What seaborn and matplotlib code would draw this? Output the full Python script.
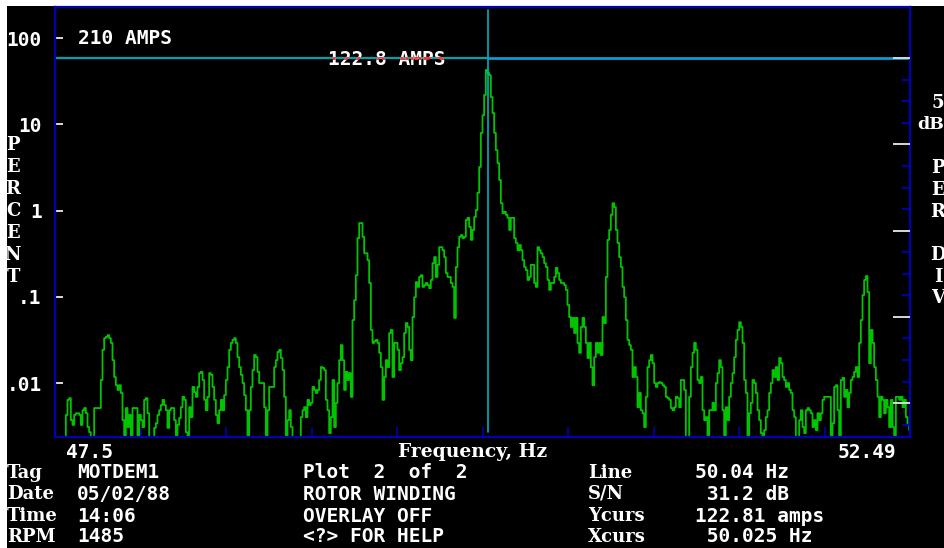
import numpy as np
import pandas as pd
import matplotlib
matplotlib.use("Agg")
import matplotlib.pyplot as plt
from matplotlib.patches import Rectangle
from matplotlib.ticker import FixedLocator, NullLocator, NullFormatter
import seaborn as sns

# ---------------------------------------------------------------------------
# Current spectrum, one value per analyser line from 47.5 Hz to 52.49 Hz.
# Levels are in dB relative to full scale (210 A = 100 %); -95 = below floor.
# ---------------------------------------------------------------------------
level_db_low = [
    -95, -95, -95, -95, -95, -95, -95,
    -87.4, -83.9, -83.5, -88.6, -89.7, -87.4, -87.0, -87.0, -87.4, -89.7, -86.3, -85.8, -87.0, -90.2, -91.4,
    -95, -95,
    -85.8, -85.8, -85.8, -85.8,
    -79.3, -72.3, -69.6, -69.3, -68.9, -69.6, -70.7, -74.7, -78.6, -80.5, -81.6, -80.5, -82.3, -88.6,
    -95, -85.8, -90.2, -87.4, -95, -85.8, -85.8, -85.8, -95,
    -87.4, -88.6, -90.2, -83.9, -83.5, -87.0,
    -95, -95, -95,
    -90.4, -89.3, -87.4, -86.3, -85.1, -83.9, -85.1, -86.3, -90.4, -86.3, -85.8, -85.8, -88.6,
    -95,
    -89.7, -88.1, -85.6, -83.2, -83.9, -91.4,
    -95,
    -85.6, -87.9, -80.9, -82.1, -83.2, -80.9, -77.7, -77.4, -79.3, -83.9, -86.3, -83.2, -77.7, -78.1,
    -80.9, -83.9, -87.4, -89.3, -86.3, -83.9, -86.3,
    -82.8, -79.3, -76.3, -72.3, -70.7, -70.0, -69.6, -70.7, -74.0, -76.3, -78.1, -80.0, -82.8, -86.3,
    -95,
    -86.3, -80.9, -77.0, -73.5, -74.0, -77.4, -80.0, -80.0, -80.0, -85.6,
    -95,
    -86.3, -80.9, -80.9, -80.9, -76.3, -74.7, -72.8, -72.3, -74.2, -77.0, -83.2,
    -95,
    -88.6, -86.3, -90.2,
    -95, -95, -95, -95, -95,
    -87.9, -86.3, -85.6, -87.9, -83.9, -85.1, -84.6, -80.9, -81.6, -82.3, -81.6,
]

level_db_mid = [
    -79.3, -76.3, -76.5, -77.0, -83.9, -86.3, -91.6, -87.9, -79.3, -90.2,
    -84.6, -80.0, -74.7, -71.2, -74.7, -81.6, -77.4, -79.3, -77.7, -83.2,
    -65.4, -60.8, -55.0, -46.4, -42.9, -42.9, -46.1, -49.9, -49.9, -51.5, -56.8, -67.7,
    -70.7, -70.3, -70.0, -70.7, -73.0, -76.3, -83.9, -78.6, -74.7, -76.3, -68.4, -67.7,
    -78.6, -70.7, -70.7, -72.3, -77.0, -75.4, -74.0, -68.4, -66.1, -67.0, -72.3, -74.7,
    -64.7, -60.1, -56.6, -57.7, -55.4, -55.0, -57.7, -57.3, -56.8, -57.3, -58.0, -56.1,
    -52.2, -50.8, -55.4, -52.6, -48.5, -48.5, -49.2, -50.8, -54.5, -55.4, -55.4, -56.8, -57.7,
    -64.9, -53.1, -48.5, -46.1, -45.7, -46.4, -46.1, -42.2, -41.7, -43.8, -46.8, -44.5,
    -41.5, -39.9, -35.9, -29.9, -22.0, -17.9, -13.2, -7.4, -8.1, -8.6, -13.7, -17.4,
    -22.0, -26.0, -29.0, -32.9, -38.3, -40.6, -40.3, -41.0, -41.7, -44.5, -41.7, -41.7,
    -46.4, -47.5, -49.2, -48.0, -49.2, -51.5, -53.1, -53.8, -56.1, -55.4, -52.6, -52.6,
    -56.8, -57.7,
    -48.5, -49.2, -49.9, -50.8, -52.2, -53.1, -56.1, -58.4, -56.8, -56.8, -55.4, -53.3,
    -54.5, -56.1, -56.8, -56.8, -57.3, -58.4, -61.9, -64.7, -67.0, -64.9, -68.4, -64.9,
    -70.7, -73.0, -67.0, -64.9, -67.0, -70.7, -74.2, -70.7, -76.3, -80.5, -74.0, -70.7,
    -73.0, -70.7, -73.5, -64.7, -66.1,
    -55.4, -46.8, -44.5, -41.0, -38.3, -39.2, -44.5, -47.5, -50.8, -53.1, -57.7, -60.1,
    -65.4, -70.0, -71.2, -72.3, -78.6, -76.3, -78.6, -85.6,
]

level_db_high = [
    -82.3, -86.3, -87.0, -90.2, -83.2, -76.3, -74.7, -73.5, -75.4, -80.0,
    -80.9, -80.0, -79.8, -80.0, -80.5, -80.9, -83.2, -83.5, -83.9, -85.8,
    -86.3, -85.6, -83.2, -83.5, -85.6, -79.3, -79.3, -81.6, -95, -95,
    -83.2, -76.3, -73.0, -70.7, -72.3, -79.3, -80.0, -78.6, -86.3, -88.6, -87.9, -95,
    -86.3, -86.3, -84.6, -86.3, -80.0, -77.7, -74.7, -76.3, -86.3, -95,
    -85.6, -88.6, -83.2, -80.0, -77.7, -74.0, -70.0, -67.7, -65.9, -67.0, -70.7, -79.3, -82.3, -95,
    -87.0, -84.6, -79.3, -80.0, -82.3, -86.3, -88.6, -91.6, -95,
    -90.9, -87.9, -86.3, -82.3, -80.0, -77.0, -78.6, -76.3, -79.3, -74.2, -75.4, -78.6,
    -79.3, -80.9, -80.0, -81.6, -82.3, -86.3, -87.9, -95, -95,
    -88.6, -86.3, -90.2, -91.6, -86.3, -85.8, -86.3, -87.0, -90.2, -88.6,
    -90.9, -87.0, -88.6, -87.0, -83.9, -83.2, -83.2, -83.2, -83.2, -95,
    -89.3, -80.9, -80.5, -86.3, -95,
    -79.3, -78.8, -83.2, -81.6, -85.6, -82.3, -79.3, -78.6, -77.4, -76.3, -78.6,
    -70.7, -65.4, -59.6, -56.1, -55.2, -58.9, -75.4, -67.7, -70.7, -76.3, -79.3,
    -83.2, -87.9, -83.2, -83.9, -87.0, -83.9, -85.6, -90.2, -83.9, -90.2, -95,
    -83.2, -83.2, -83.9, -83.2, -85.6, -83.9, -87.9, -89.7, -90.9,
]

F_START, F_STOP = 47.5, 52.49          # analyser span, Hz
FULL_SCALE_AMPS = 210.0                # 100 % on the percent scale
cursor_amps = 122.81
cursor_hz = 50.025

decade_ticks = [100, 10, 1, 0.1, 0.01]
decade_labels = ["100", "10", "1", ".1", ".01"]
db_per_div = 5

info_labels = ["Tag", "Date", "Time", "RPM"]
info_values = ["MOTDEM1", "05/02/88", "14:06", "1485"]
plot_lines = ["Plot  2  of  2", "ROTOR WINDING", "OVERLAY OFF", "<?> FOR HELP"]
cursor_labels = ["Line", "S/N", "Ycurs", "Xcurs"]
cursor_values = ["50.04 Hz", " 31.2 dB", "122.81 amps", " 50.025 Hz"]

# ---------------------------------------------------------------------------
levels = np.array(level_db_low + level_db_mid + level_db_high)
freq = np.linspace(F_START, F_STOP, len(levels))
spectrum = pd.DataFrame({"Frequency": freq, "Percent": 100 * 10 ** (levels / 20)})
cursor_pct = 100 * cursor_amps / FULL_SCALE_AMPS

BLUE = "#0000b4"
GREEN = "#00c400"
TEAL = "#00a4a8"
CURSOR_V = "#00aec0"
SKY = "#0a9ad6"
WHITE = "#ffffff"
MONO = "DejaVu Sans Mono"
SERIF = "DejaVu Serif"

sns.set_style("dark", {"axes.facecolor": "black"})
plt.rcParams["font.family"] = [MONO, "DejaVu Sans"]

W, H = 945, 548
fig = plt.figure(figsize=(W / 100, H / 100), dpi=100, facecolor="white")
# black screen area (thin white margin on the left and top)
fig.patches.append(Rectangle((7 / W, 0), 1, 1 - 6 / H, transform=fig.transFigure,
                             facecolor="black", edgecolor="none", zorder=-10))

left, right, top, bottom = 55, 910, 6.5, 436.5
ax = fig.add_axes([left / W, 1 - bottom / H, (right - left) / W, (bottom - top) / H])
ax.set_facecolor("black")
ax.set_yscale("log")

sns.lineplot(data=spectrum, x="Frequency", y="Percent", ax=ax, color=GREEN,
             linewidth=1.3, estimator=None, sort=False, legend=False, zorder=3,
             drawstyle="steps-mid")

ax.set_xlim(F_START, F_STOP)
ax.set_ylim(0.0024, 232)
ax.set_xlabel("")
ax.set_ylabel("")
ax.grid(False)
for sp in ax.spines.values():
    sp.set_color(BLUE)
    sp.set_linewidth(1.6)
    sp.set_visible(True)
    sp.set_zorder(6)

# left percent scale
ax.yaxis.set_major_locator(FixedLocator(decade_ticks))
ax.set_yticklabels(decade_labels)
ax.yaxis.set_minor_locator(NullLocator())
ax.tick_params(axis="y", which="major", direction="in", length=5.5, width=1.2,
               color=WHITE, labelcolor=WHITE, labelsize=14, pad=9.6, right=False)
for lbl in ax.get_yticklabels():
    lbl.set_fontweight("bold")
    lbl.set_family(MONO)

# frequency divisions (ten per span)
ax.xaxis.set_major_locator(FixedLocator(np.linspace(F_START, F_STOP, 11)[1:-1]))
ax.xaxis.set_major_formatter(NullFormatter())
ax.xaxis.set_minor_locator(NullLocator())
ax.tick_params(axis="x", which="major", direction="in", length=7.2, width=1.2,
               color=BLUE, bottom=True, top=False)

# right-hand 5 dB/div scale referenced to the cursor level
ax2 = ax.twinx()
ax2.set_yscale("log")
ax2.set_ylim(ax.get_ylim())
ax2.grid(False)
for sp in ax2.spines.values():
    sp.set_visible(False)
div_levels = cursor_pct * 10 ** (-db_per_div * np.arange(0, 18) / 20)
ax2.yaxis.set_major_locator(FixedLocator(div_levels[::4]))
ax2.yaxis.set_minor_locator(FixedLocator([v for i, v in enumerate(div_levels) if i % 4]))
ax2.yaxis.set_major_formatter(NullFormatter())
ax2.yaxis.set_minor_formatter(NullFormatter())
ax2.tick_params(axis="y", which="major", direction="in", length=12, width=1.4, color="#d8d8d8")
ax2.tick_params(axis="y", which="minor", direction="in", length=6, width=1.3, color=BLUE)

# cursors
ax.plot([F_START, cursor_hz], [cursor_pct, cursor_pct], color=TEAL, lw=1.6, zorder=4)
ax.plot([cursor_hz, F_STOP], [cursor_pct, cursor_pct], color=SKY, lw=2.0, zorder=4)
ax.axvline(cursor_hz, ymin=(bottom - 432) / (bottom - top), ymax=(bottom - 10) / (bottom - top),
           color=CURSOR_V, lw=1.2, zorder=5)


def put(x, y, s, family=MONO, ha="left", size=14, color=WHITE):
    return fig.text(x / W, 1 - y / H, s, ha=ha, va="center", color=color,
                    fontsize=size, fontweight="bold", family=family)


put(78, 38, f"{FULL_SCALE_AMPS:.0f} AMPS")
amps_txt = f"{cursor_amps:.1f} AMPS"
put(328, 59.5, amps_txt)
red = put(328, 59.5, amps_txt, color="#ff3030")
red.set_clip_path(Rectangle((0, 1 - 60 / H), 1, 3 / H, transform=fig.transFigure))

# vertical axis captions
for i, ch in enumerate("PERCENT"):
    put(13, 145 + 22 * i, ch, family=SERIF, ha="center", size=13)
put(944, 103, str(db_per_div), family=SERIF, ha="right", size=13)
put(944, 124, "dB", family=SERIF, ha="right", size=12.5)
for ch, y in zip("PERDIV", [168, 190, 212, 255, 277, 298]):
    put(938, y, ch, family=SERIF, ha="center", size=13)

# frequency span
put(66, 452, f"{F_START}")
put(398, 452, "Frequency, Hz", family=SERIF, size=13.5)
put(838, 452, f"{F_STOP}")

# status block
rows = [473, 494, 516, 537]
for y, a, b, c, d, e in zip(rows, info_labels, info_values, plot_lines, cursor_labels, cursor_values):
    put(7, y, a, family=SERIF, size=13)
    put(77, y, b)
    put(303, y, c)
    put(588, y, d, family=SERIF, size=13)
    put(695, y, e)

fig.savefig("out.png", dpi=100, facecolor=fig.get_facecolor())
